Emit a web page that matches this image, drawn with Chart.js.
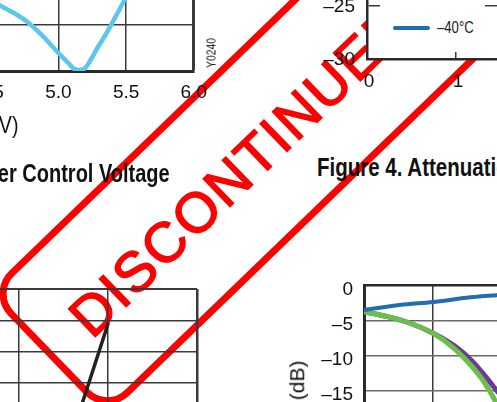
<!DOCTYPE html>
<html><head><meta charset="utf-8">
<script src="https://cdn.jsdelivr.net/npm/chart.js@4.4.1/dist/chart.umd.min.js"></script>
<style>
html,body{margin:0;padding:0;background:#fff;}
#wrap{position:relative;width:497px;height:402px;overflow:hidden;background:#fff;}
canvas{position:absolute;}
.txt{position:absolute;white-space:nowrap;font-family:'Liberation Sans',Arial,sans-serif;color:#111;line-height:1;}
.bold{font-weight:bold;}
#stamp{position:absolute;box-sizing:border-box;width:552px;height:173px;left:-31.4px;top:76.8px;border:7px solid #ff0000;border-radius:32px;transform:rotate(-44deg);transform-origin:50% 50%;}
#stamp span{position:absolute;left:0;right:15px;top:50%;text-align:center;font-family:'Liberation Sans',Arial,sans-serif;font-weight:normal;-webkit-text-stroke:1.6px #ff0000;font-size:56px;line-height:56px;margin-top:-27px;letter-spacing:2px;color:#ff0000;white-space:nowrap;}
#legB{position:absolute;left:380px;top:-70px;width:105px;height:122px;background:#fff;}
#legB .it{position:absolute;left:0;width:105px;height:0;}
#legB .ln{position:absolute;left:13px;width:37px;height:4px;margin-top:-2px;border-radius:2px;}
#legB .lb{position:absolute;left:57px;font-size:16px;top:-8px;transform:scaleX(0.82);transform-origin:0 50%;color:#222;}
</style></head>
<body><div id="wrap">
<div id="stamp"><span>DISCONTINUED</span></div>
<canvas id="cA"></canvas>
<canvas id="cB"></canvas>
<canvas id="cC"></canvas>
<canvas id="cD"></canvas>
<div id="legB"></div>
<div class="txt" style="right:479px;top:113px;font-size:24px;transform:scaleX(0.82);transform-origin:100% 50%;">Power Control Voltage (V)</div>
<div class="txt bold" style="right:327px;top:160.5px;font-size:25px;transform:scaleX(0.8);transform-origin:100% 50%;">Figure 3. Phase vs Power Control Voltage</div>
<div class="txt" style="left:211px;top:53px;font-size:13px;transform:translate(-50%,-50%) rotate(-90deg) scaleX(0.8);">Y0240</div>
<div class="txt bold" style="left:317px;top:154.5px;font-size:25px;transform:scaleX(0.82);transform-origin:0 50%;">Figure 4. Attenuation vs Control Voltage</div>
<div class="txt" style="right:200px;top:349.5px;font-size:21px;transform-origin:100% 50%;transform:rotate(-90deg);">Attenuation (dB)</div>
</div>
<script>
const FONT = "'Liberation Sans',Arial,sans-serif";

// ---- Chart A (top-left, partial): curve vs power control voltage ----
const aVoltage = [4.45, 4.562, 4.672, 4.781, 4.891, 5.0, 5.073, 5.117, 5.149, 5.19, 5.234, 5.292, 5.343, 5.401, 5.453, 5.5];
const aValue   = [1.61, 1.435, 1.26, 1.043, 0.739, 0.391, 0.174, 0.043, 0.02, 0.043, 0.217, 0.522, 0.761, 1.065, 1.348, 1.609];
const aXTicks  = [4.0, 4.5, 5.0, 5.5, 6.0];
const aYTicks  = [0, 1, 2, 3, 4];

// ---- Chart B (top-right, partial): attenuation vs control voltage ----
const bVoltage = [0, 1, 2, 3, 4, 5];
const bLegend  = ['+85°C', '+25°C', '–40°C'];
const bP85  = [-2.0, -3.0, -6.0, -12.0, -20.0, -26.0];
const bP25  = [-2.2, -3.3, -6.5, -12.8, -20.8, -26.6];
const bM40  = [-2.5, -3.8, -7.2, -13.8, -21.8, -27.4];
const bXTicks = [0, 1, 2, 3, 4, 5];
const bYTicks = [-30, -25, -20, -15, -10, -5, 0];

// ---- Chart C (bottom-left, partial) ----
const cX = [1.006, 0.719, 0.705];
const cY = [3.914, 1.39, 1.26];
const cXTicks = [-1, 0, 1, 2];
const cYTicks = [0, 1, 2, 3, 4, 5];

// ---- Chart D (bottom-right, partial): attenuation (dB) ----
const dBlueX   = [0, 0.52, 1.0, 1.49, 1.95];
const dBlueY   = [-3.5, -2.8, -2.35, -1.77, -1.35];
const dPurpleX = [0, 0.34, 0.67, 1.0, 1.32, 1.57, 1.78, 1.95];
const dPurpleY = [-3.73, -4.44, -5.38, -6.8, -8.66, -10.77, -13.17, -15.3];
const dGreenX  = [0, 0.34, 0.67, 1.0, 1.30, 1.54, 1.73, 1.90, 1.94];
const dGreenY  = [-3.73, -4.44, -5.38, -6.79, -8.9, -11.24, -13.59, -16.4, -17.2];
const dXTicks = [0, 1, 2, 3];
const dYTicks = [-30, -25, -20, -15, -10, -5, 0];

const COL = {blue:'#1f6db5', purple:'#6b3a99', green:'#6cbf4a', light:'#5cc6ef'};

const leg = document.getElementById('legB');
const legCols = [COL.green, COL.purple, COL.blue];
bLegend.forEach((t, i) => {
  const it = document.createElement('div'); it.className = 'it'; it.style.top = (98 - (2 - i) * 33) + 'px';
  it.innerHTML = '<div class="ln" style="background:' + legCols[i] + '"></div><div class="txt lb">' + t + '</div>';
  leg.appendChild(it);
});

function place(id, r, yW, xH, pad) {
  const cl = Math.floor(r.l - yW - pad), ct = Math.floor(r.t - pad);
  const w = Math.ceil(r.r + pad - cl), h = Math.ceil(r.b + xH + pad - ct);
  const cv = document.getElementById(id);
  cv.width = w; cv.height = h;
  cv.style.left = cl + 'px'; cv.style.top = ct + 'px'; cv.style.width = w + 'px'; cv.style.height = h + 'px';
  return {left: r.l - yW - cl, top: r.t - ct, right: cl + w - r.r, bottom: ct + h - r.b - xH};
}
const pts = (xs, ys) => xs.map((x, i) => ({x, y: ys[i]}));
const dash = v => (v < 0 ? '–' + Math.abs(v) : String(v));
const fixTicks = arr => s => { s.ticks = arr.map(v => ({value: v})); };
const base = (pad) => ({responsive:false, animation:false, devicePixelRatio:1,
  layout:{padding:pad, autoPadding:false},
  plugins:{legend:{display:false}, tooltip:{enabled:false}},
  elements:{point:{radius:0}}});
const TF = {family:FONT, size:19};

// Chart A
{
  const yW = 50, xH = 45;
  const pad = place('cA', {l:-77, r:197, t:71 - 4 * 46, b:71}, yW, xH, 20);
  const o = base(pad);
  o.scales = {
    x:{type:'linear', min:4.0, max:6.0, afterBuildTicks:fixTicks(aXTicks), afterFit:s => { s.height = xH; },
       grid:{drawTicks:false, color:'#3a3a3a', lineWidth:c => (c.tick && c.tick.value === 6 ? 3 : 1.5)},
       border:{display:true, width:3, color:'#2a2a2a'},
       ticks:{font:TF, color:'#111', padding:10, callback:v => Number(v).toFixed(1)}},
    y:{type:'linear', min:0, max:4, afterBuildTicks:fixTicks(aYTicks), afterFit:s => { s.width = yW; },
       grid:{drawTicks:false, color:'#3a3a3a', lineWidth:1.5}, border:{display:false},
       ticks:{font:TF, color:'#111'}}
  };
  new Chart('cA', {type:'line', data:{datasets:[{data:pts(aVoltage, aValue), borderColor:COL.light, borderWidth:4.5, cubicInterpolationMode:'monotone'}]}, options:o});
}

// Chart B
{
  const yW = 60, xH = 45;
  const pad = place('cB', {l:367, r:367 + 5 * 89, t:59 - 6 * 54, b:59}, yW, xH, 20);
  const o = base(pad);
  o.scales = {
    x:{type:'linear', min:0, max:5, afterBuildTicks:fixTicks(bXTicks), afterFit:s => { s.height = xH; },
       grid:{drawTicks:false, color:'#3a3a3a', lineWidth:1.5}, border:{display:true, width:2.5, color:'#2a2a2a'},
       ticks:{font:TF, color:'#111', padding:11, labelOffset:2}},
    y:{type:'linear', min:-30, max:0, afterBuildTicks:fixTicks(bYTicks), afterFit:s => { s.width = yW; },
       grid:{drawTicks:false, color:'#3a3a3a', lineWidth:1.5}, border:{display:true, width:2.5, color:'#2a2a2a'},
       ticks:{font:TF, color:'#111', padding:12, labelOffset:1, callback:dash}}
  };
  const whiteArea = {id:'whiteArea', beforeDraw(ch) { const a = ch.chartArea, c = ch.ctx; c.save(); c.fillStyle = '#fff'; c.fillRect(a.left, a.top, a.right - a.left, a.bottom - a.top); c.restore(); }};
  new Chart('cB', {type:'line', data:{datasets:[
    {label:bLegend[2], data:pts(bVoltage, bM40), borderColor:COL.blue, borderWidth:4},
    {label:bLegend[0], data:pts(bVoltage, bP85), borderColor:COL.green, borderWidth:4},
    {label:bLegend[1], data:pts(bVoltage, bP25), borderColor:COL.purple, borderWidth:4}
  ]}, options:o, plugins:[whiteArea]});
}

// Chart C
{
  const yW = 30, xH = 30;
  const pad = place('cC', {l:18.5 - 89.25, r:197, t:289, b:289 + 5 * 31.3}, yW, xH, 20);
  const o = base(pad);
  o.scales = {
    x:{type:'linear', min:-1, max:2, afterBuildTicks:fixTicks(cXTicks), afterFit:s => { s.height = xH; },
       grid:{drawTicks:false, color:'#3a3a3a', lineWidth:c => (c.tick && c.tick.value === 2 ? 2.5 : 1.5)}, border:{display:false},
       ticks:{display:false}},
    y:{type:'linear', min:0, max:5, afterBuildTicks:fixTicks(cYTicks), afterFit:s => { s.width = yW; },
       grid:{drawTicks:false, color:'#3a3a3a', lineWidth:c => (c.tick && c.tick.value === 5 ? 2 : 1.5)}, border:{display:false},
       ticks:{display:false}}
  };
  new Chart('cC', {type:'line', data:{datasets:[{data:pts(cX, cY), borderColor:'#222', borderWidth:3.5}]}, options:o});
}

// Chart D
{
  const yW = 60, xH = 45;
  const pad = place('cD', {l:364, r:364 + 3 * 69, t:283.5, b:283.5 + 30 * 7.1}, yW, xH, 20);
  const o = base(pad);
  o.scales = {
    x:{type:'linear', min:0, max:3, afterBuildTicks:fixTicks(dXTicks), afterFit:s => { s.height = xH; },
       grid:{drawTicks:false, color:'#3a3a3a', lineWidth:1.5}, border:{display:false},
       ticks:{font:TF, color:'#111', padding:10}},
    y:{type:'linear', min:-30, max:0, afterBuildTicks:fixTicks(dYTicks), afterFit:s => { s.width = yW; },
       grid:{drawTicks:false, color:c => (c.tick && c.tick.value === 0 ? '#2a2a2a' : '#6a6a6a'), lineWidth:c => (c.tick && c.tick.value === 0 ? 2.5 : 1.5)},
       border:{display:true, width:3, color:'#2a2a2a'},
       ticks:{font:TF, color:'#111', padding:11, labelOffset:4, callback:dash}}
  };
  // Chart.js paints dataset 0 on top: blue, then green, then purple underneath
  new Chart('cD', {type:'line', data:{datasets:[
    {data:pts(dBlueX, dBlueY), borderColor:COL.blue, borderWidth:4, cubicInterpolationMode:'monotone'},
    {data:pts(dGreenX, dGreenY), borderColor:COL.green, borderWidth:5, cubicInterpolationMode:'monotone'},
    {data:pts(dPurpleX, dPurpleY), borderColor:COL.purple, borderWidth:5, cubicInterpolationMode:'monotone'}
  ]}, options:o});
}
</script>
</body></html>
